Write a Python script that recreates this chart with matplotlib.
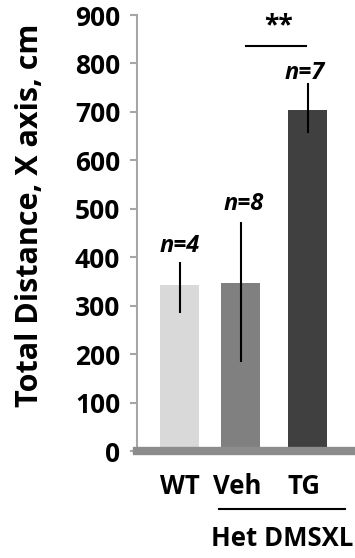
import matplotlib
matplotlib.use("Agg")
import matplotlib.pyplot as plt
import numpy as np

groups = ["WT", "Veh", "TG"]
means = [343, 347, 704]
err_low = [58, 163, 47]
err_high = [47, 126, 56]
n_labels = ["n=4", "n=8", "n=7"]
bar_colors = ["#d9d9d9", "#808080", "#404040"]
yticks = [0, 100, 200, 300, 400, 500, 600, 700, 800, 900]

FONT = "Open Sans"
plt.rcParams["font.family"] = [FONT, "DejaVu Sans"]

fig = plt.figure(figsize=(3.55, 5.58), dpi=100)
W, H = 355, 558
ax_left, ax_right, ax_top, ax_bot = 137, 355, 15, 451
ax = fig.add_axes([ax_left / W, 1 - ax_bot / H, (ax_right - ax_left) / W, (ax_bot - ax_top) / H])

x = np.array([0.0, 1.0, 2.1])
ax.bar(x, means, width=0.64, color=bar_colors, zorder=2)
ax.errorbar(x, means, yerr=[err_low, err_high], fmt="none", ecolor="black",
            elinewidth=1.5, capsize=0, zorder=3)

ax.set_xlim(-0.697, 2.877)
ax.set_ylim(0, 900)
ax.axhline(0, color="#8c8c8c", linewidth=6.0, zorder=4, clip_on=False)

for s in ["top", "right", "bottom"]:
    ax.spines[s].set_visible(False)
ax.spines["left"].set_color("#a6a6a6")
ax.spines["left"].set_linewidth(1.5)
ax.set_xticks([])
ax.set_yticks(yticks)
ax.set_yticklabels([str(v) for v in yticks], fontsize=19, fontweight="bold")
ax.tick_params(axis="y", length=5, width=1.5, color="#a6a6a6", pad=7)

# n labels
n_pos = [(0.0, 423), (1.06, 510), (2.06, 780)]
for (px, py), lab in zip(n_pos, n_labels):
    ax.text(px, py, lab, ha="center", va="center", fontsize=17,
            fontweight="bold", fontstyle="italic")

# significance
ax.plot([1.09, 2.07], [836, 836], color="black", linewidth=1.5, clip_on=False)
ax.text(1.62, 878, "**", ha="center", va="center", fontsize=19, fontweight="bold")

# x labels
xl_pos = [0.0, 0.94, 2.04]
for px, lab in zip(xl_pos, groups):
    ax.text(px, -74, lab, ha="center", va="center", fontsize=18.5,
            fontweight="bold", clip_on=False)
ax.plot([0.65, 2.71], [-120, -120], color="black", linewidth=1.5, clip_on=False)
ax.text(1.68, -180, "Het DMSXL", ha="center", va="center", fontsize=18.5,
        fontweight="bold", clip_on=False)

fig.text(30 / W, 1 - 215 / H, "Total Distance, X axis, cm", rotation=90,
         ha="center", va="center", fontsize=22, fontweight="bold")

fig.savefig("out.png", dpi=100)
